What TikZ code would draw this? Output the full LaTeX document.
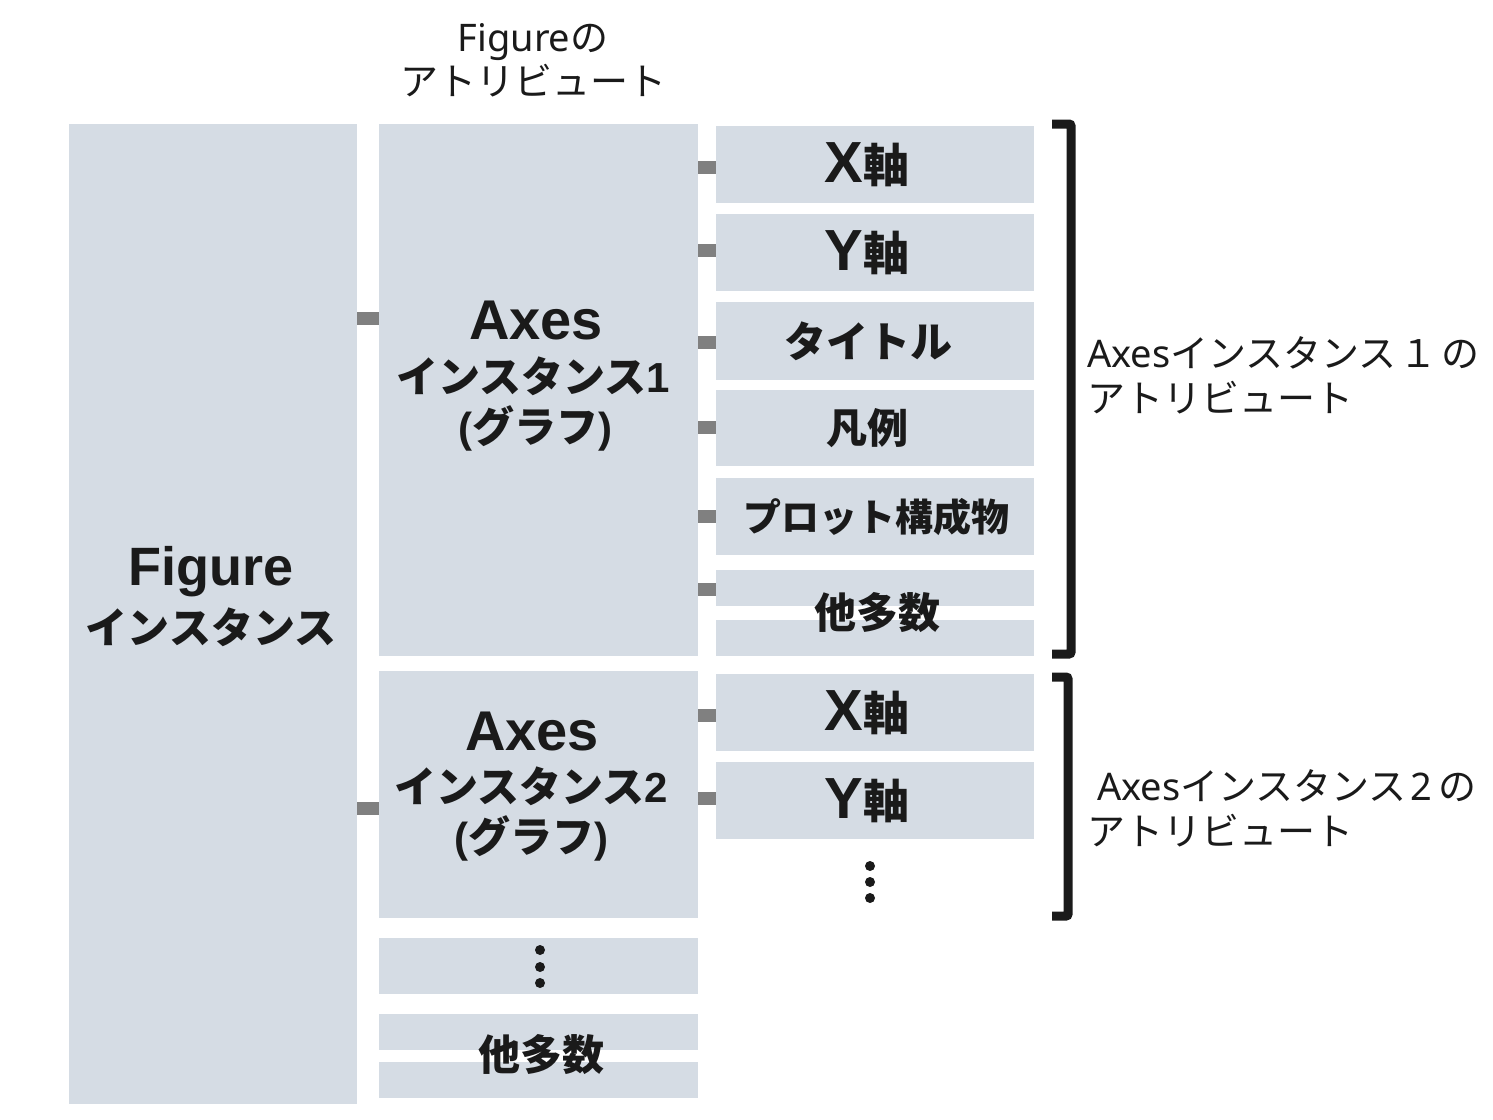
\documentclass[tikz,border=0pt]{standalone}
\usepackage{fontspec}
\setmainfont{Noto Sans CJK JP}
\newfontfamily\latb{Liberation Sans Bold}
\newfontfamily\latr{Noto Sans}
\newcommand{\lb}[1]{{\latb #1}}
\newcommand{\lr}[1]{{\latr #1}}
\begin{document}
\begin{tikzpicture}[x=1pt,y=-1pt,
  box/.style={fill=boxc, draw=none, inner sep=0pt, anchor=north west},
  stub/.style={draw=stubc, line width=13pt},
  brk/.style={draw=txtc, line width=9pt, rounded corners=2pt},
  lbl/.style={text=txtc, font=\bfseries, align=center, inner sep=0pt},
  dotc/.style={circle, fill=txtc, inner sep=0pt, minimum size=10pt}]
\definecolor{boxc}{HTML}{D5DCE4}
\definecolor{stubc}{HTML}{808080}
\definecolor{txtc}{HTML}{1A1A1A}
\useasboundingbox (0,0) rectangle (1493,1119);
% left column
\node[box, minimum width=288pt, minimum height=980pt] (fig) at (69,124) {};
% axes column
\node[box, minimum width=319pt, minimum height=532pt] (ax1) at (379,124) {};
\node[box, minimum width=319pt, minimum height=247pt] (ax2) at (379,671) {};
\node[box, minimum width=319pt, minimum height=56pt] (axd) at (379,938) {};
\node[box, minimum width=319pt, minimum height=36pt] (axo1) at (379,1014) {};
\node[box, minimum width=319pt, minimum height=36pt] (axo2) at (379,1062) {};
% attribute column
\node[box, minimum width=318pt, minimum height=77pt] (x1) at (716,126) {};
\node[box, minimum width=318pt, minimum height=77pt] (y1) at (716,214) {};
\node[box, minimum width=318pt, minimum height=78pt] (t1) at (716,302) {};
\node[box, minimum width=318pt, minimum height=76pt] (l1) at (716,390) {};
\node[box, minimum width=318pt, minimum height=77pt] (p1) at (716,478) {};
\node[box, minimum width=318pt, minimum height=36pt] (o1a) at (716,570) {};
\node[box, minimum width=318pt, minimum height=36pt] (o1b) at (716,620) {};
\node[box, minimum width=318pt, minimum height=77pt] (x2) at (716,674) {};
\node[box, minimum width=318pt, minimum height=77pt] (y2) at (716,762) {};
% stub coordinates
\coordinate (s1) at (0,318);
\coordinate (s2) at (0,808);
\draw[stub] (fig.east |- s1) -- (ax1.west |- s1);
\draw[stub] (fig.east |- s2) -- (ax2.west |- s2);
\foreach \n/\yy in {x1/167, y1/250, t1/342, l1/427, p1/516, o1a/589}{
  \coordinate (c\n) at (0,\yy);
  \draw[stub] (ax1.east |- c\n) -- (\n.west |- c\n);
}
\foreach \n/\yy in {x2/715, y2/798}{
  \coordinate (c\n) at (0,\yy);
  \draw[stub] (ax2.east |- c\n) -- (\n.west |- c\n);
}
% labels in Figure / Axes boxes
\node[lbl, font=\latb\fontsize{54}{56}\selectfont] (figt) at (211,572) {Figure};
\node[lbl, font=\bfseries\fontsize{42}{50}\selectfont] (figi) at (211,627) {インスタンス};
\node[lbl, font=\latb\fontsize{56}{56}\selectfont] (a1t) at (536,321) {Axes};
\node[lbl, font=\bfseries\fontsize{42}{50}\selectfont] (a1i) at (533,376) {インスタンス\lb{1}};
\node[lbl, font=\bfseries\fontsize{42}{50}\selectfont] (a1g) at (535,428) {\lb{(}グラフ\lb{)}};
\node[lbl, font=\latb\fontsize{56}{56}\selectfont] (a2t) at (532,731) {Axes};
\node[lbl, font=\bfseries\fontsize{42}{50}\selectfont] (a2i) at (531,786) {インスタンス\lb{2}};
\node[lbl, font=\bfseries\fontsize{42}{50}\selectfont] (a2g) at (531,838) {\lb{(}グラフ\lb{)}};
% attribute labels (bold)
\node[lbl, font=\bfseries\fontsize{46}{56}\selectfont] at ([xshift=-8pt]x1.center) {{\latb\fontsize{58}{56}\selectfont X}軸};
\node[lbl, font=\bfseries\fontsize{46}{56}\selectfont] at ([xshift=-8pt]y1.center) {{\latb\fontsize{58}{56}\selectfont Y}軸};
\node[lbl, font=\bfseries\fontsize{42}{50}\selectfont] at ([xshift=-7pt]t1.center) {タイトル};
\node[lbl, font=\bfseries\fontsize{41}{50}\selectfont] at ([xshift=-8pt]l1.center) {凡例};
\node[lbl, font=\bfseries\fontsize{38}{50}\selectfont] at ([xshift=1pt]p1.center) {プロット構成物};
\node[lbl, font=\bfseries\fontsize{42}{50}\selectfont] (o1t) at (877,613) {他多数};
\node[lbl, font=\bfseries\fontsize{46}{56}\selectfont] at ([xshift=-8pt]x2.center) {{\latb\fontsize{58}{56}\selectfont X}軸};
\node[lbl, font=\bfseries\fontsize{46}{56}\selectfont] at ([xshift=-8pt]y2.center) {{\latb\fontsize{58}{56}\selectfont Y}軸};
\node[lbl, font=\bfseries\fontsize{42}{50}\selectfont] (axot) at (541,1055) {他多数};
% dots
\foreach \yy in {866,882,898}{\node[dotc] at (870,\yy) {};}
\foreach \yy in {950,967,983}{\node[dotc] at (540,\yy) {};}
% top title
\node[text=txtc, font=\fontsize{38}{44}\selectfont, align=center, inner sep=0pt] (ttl) at (533,60) {\lr{Figure}の\\アトリビュート};
% brackets
\draw[brk] (1052,124) -- (1071,124) -- (1071,654) -- (1052,654);
\draw[brk] (1052,677) -- (1068,677) -- (1068,916) -- (1052,916);
\node[text=txtc, font=\fontsize{38}{45}\selectfont, align=left, inner sep=0pt, anchor=west] (b1) at (1087,375) {\lr{Axes}インスタンス\hspace{3pt}１\hspace{4pt}の\\アトリビュート};
\node[text=txtc, font=\fontsize{38}{45}\selectfont, align=left, inner sep=0pt, anchor=west] (b2) at (1087,808) {\hspace{10pt}\lr{Axes}インスタンス\hspace{4pt}\lr{2}\hspace{6pt}の\\アトリビュート};
\end{tikzpicture}
\end{document}
